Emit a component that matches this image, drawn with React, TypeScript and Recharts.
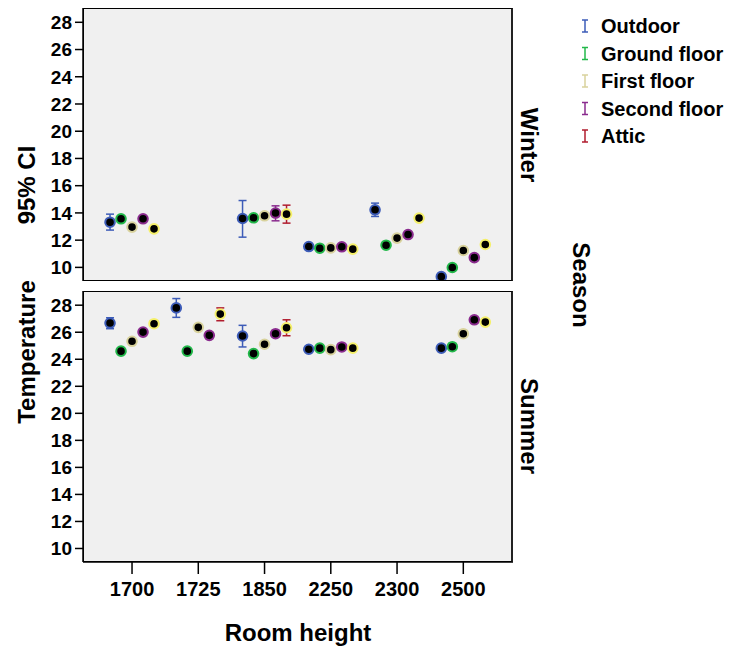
import React from "react";
import { ScatterChart, Scatter, XAxis, YAxis, CartesianGrid, ErrorBar } from "recharts";

const categories = ["1700", "1725", "1850", "2250", "2300", "2500"];
const seriesNames = ["Outdoor", "Ground floor", "First floor", "Second floor", "Attic"];
const legendColors = ["#3d5cb8", "#22b84a", "#d8d29c", "#8a2b8e", "#b01c2e"];
const markerColors = ["#3d5cb8", "#22b84a", "#d8d29c", "#8a2b8e", "#f5f06a"];
const yTicks = [10, 12, 14, 16, 18, 20, 22, 24, 26, 28];

// Winter: mean, lower CI, upper CI per category (null = no data)
const winterMean = [
  [13.32, null, 13.59, 11.53, 14.23, 9.32],
  [13.57, null, 13.64, 11.41, 11.63, 9.99],
  [12.96, null, 13.79, 11.43, 12.15, 11.24],
  [13.57, null, 13.99, 11.51, 12.41, 10.72],
  [12.83, null, 13.91, 11.34, 13.62, 11.68],
];
const winterLow = [
  [12.74, null, 12.22, 11.38, 13.74, 9.16],
  [13.42, null, 13.49, 11.27, 11.48, 9.84],
  [12.81, null, 13.64, 11.28, 12.0, 11.09],
  [13.41, null, 13.42, 11.36, 12.25, 10.56],
  [12.68, null, 13.25, 11.19, 13.46, 11.52],
];
const winterHigh = [
  [13.91, null, 14.91, 11.68, 14.72, 9.48],
  [13.72, null, 13.79, 11.55, 11.78, 10.14],
  [13.11, null, 13.94, 11.58, 12.3, 11.39],
  [13.73, null, 14.52, 11.66, 12.57, 10.88],
  [12.98, null, 14.57, 11.49, 13.78, 11.84],
];

// Summer
const summerMean = [
  [26.68, 27.8, 25.72, 24.74, null, 24.82],
  [24.6, 24.6, 24.42, 24.82, null, 24.93],
  [25.33, 26.36, 25.11, 24.71, null, 25.89],
  [26.01, 25.77, 25.89, 24.91, null, 26.92],
  [26.63, 27.34, 26.33, 24.82, null, 26.75],
];
const summerLow = [
  [26.26, 27.1, 24.91, 24.58, null, 24.66],
  [24.44, 24.44, 24.26, 24.66, null, 24.77],
  [25.17, 26.2, 24.95, 24.55, null, 25.73],
  [25.83, 25.59, 25.71, 24.75, null, 26.74],
  [26.47, 26.85, 25.74, 24.67, null, 26.59],
];
const summerHigh = [
  [27.07, 28.49, 26.51, 24.9, null, 24.98],
  [24.76, 24.76, 24.58, 24.98, null, 25.09],
  [25.49, 26.52, 25.27, 24.87, null, 26.05],
  [26.19, 25.95, 26.07, 25.07, null, 27.1],
  [26.79, 27.8, 26.92, 24.97, null, 26.91],
];

const FONT = "'Liberation Sans', Arial, sans-serif";
const DODGE = 0.166;

function buildSeries(mean: (number | null)[], low: (number | null)[], high: (number | null)[], k: number) {
  const out: { x: number; y: number; err: number[] }[] = [];
  mean.forEach((m, i) => {
    if (m == null) return;
    out.push({ x: i + (k - 2) * DODGE, y: m, err: [m - (low[i] as number), (high[i] as number) - m] });
  });
  return out;
}

function Panel({ means, lows, highs, showX, height, margin }: any) {
  return (
    <ScatterChart width={520} height={height} margin={margin}>
      <CartesianGrid horizontal={false} vertical={false} fill="#f0f0f0" />
      <XAxis
        type="number"
        dataKey="x"
        domain={[-0.74, 5.75]}
        ticks={[0, 1, 2, 3, 4, 5]}
        tickFormatter={(v: number) => categories[v]}
        allowDataOverflow
        hide={!showX}
        height={40}
        tickSize={12}
        tickMargin={8}
        axisLine={{ stroke: "#000", strokeWidth: 1.5 }}
        tickLine={{ stroke: "#000", strokeWidth: 1.5 }}
        tick={{ fill: "#000", fontSize: 20, fontWeight: "bold", fontFamily: FONT }}
      />
      <YAxis
        type="number"
        dataKey="y"
        domain={[9.0, 29.05]}
        ticks={yTicks}
        allowDataOverflow
        width={83}
        tickSize={8}
        tickMargin={3}
        axisLine={{ stroke: "#000", strokeWidth: 1.5 }}
        tickLine={{ stroke: "#000", strokeWidth: 1.5 }}
        tick={{ fill: "#000", fontSize: 19, fontWeight: "bold", fontFamily: FONT }}
      />
      {seriesNames.map((name, k) => (
        <Scatter
          key={"e" + name}
          name={name + " ci"}
          data={buildSeries(means[k], lows[k], highs[k], k)}
          isAnimationActive={false}
          shape={() => <g />}
        >
          <ErrorBar dataKey="err" direction="y" width={4} stroke={legendColors[k]} strokeWidth={1.5} />
        </Scatter>
      ))}
      {seriesNames.map((name, k) => (
        <Scatter
          key={name}
          name={name}
          data={buildSeries(means[k], lows[k], highs[k], k)}
          isAnimationActive={false}
          shape={(p: any) => (
            <circle cx={p.cx} cy={p.cy} r={4.8} fill="#000" stroke={markerColors[k]} strokeWidth={2} />
          )}
        />
      ))}
    </ScatterChart>
  );
}

export default function App() {
  return (
    <div style={{ position: "absolute", left: 0, top: 0, width: 734, height: 648, background: "#fff", fontFamily: FONT }}>
      <div style={{ position: "absolute", left: 0, top: 0 }}>
        <Panel means={winterMean} lows={winterLow} highs={winterHigh} showX={false} height={290}
          margin={{ top: 8, right: 7, bottom: 9, left: 0 }} />
      </div>
      <div style={{ position: "absolute", left: 0, top: 282 }}>
        <Panel means={summerMean} lows={summerLow} highs={summerHigh} showX={true} height={366}
          margin={{ top: 9, right: 7, bottom: 46, left: 0 }} />
      </div>
      {/* panel frames */}
      <div style={{ position: "absolute", left: 83, top: 8, width: 430, height: 273, border: "1.5px solid #000", borderRightWidth: 2.5, borderRightColor: "#222", boxSizing: "border-box", pointerEvents: "none" }} />
      <div style={{ position: "absolute", left: 83, top: 291, width: 430, height: 271, border: "1.5px solid #000", borderRightWidth: 2.5, borderRightColor: "#222", boxSizing: "border-box", pointerEvents: "none" }} />
      <svg width={734} height={648} style={{ position: "absolute", left: 0, top: 0, pointerEvents: "none" }}>
        <g fontFamily={FONT} fontWeight="bold" fill="#000">
          <text x={35} y={185} fontSize={24} textAnchor="middle" transform="rotate(-90, 35, 185)">95% CI</text>
          <text x={35} y={352} fontSize={24} textAnchor="middle" transform="rotate(-90, 35, 352)">Temperature</text>
          <text x={298} y={641} fontSize={24} textAnchor="middle">Room height</text>
          <text x={521} y={145} fontSize={24} textAnchor="middle" transform="rotate(90, 521, 145)">Winter</text>
          <text x={521} y={426} fontSize={24} textAnchor="middle" transform="rotate(90, 521, 426)">Summer</text>
          <text x={573} y={285} fontSize={24} textAnchor="middle" transform="rotate(90, 573, 285)">Season</text>
          {seriesNames.map((name, k) => {
            const cy = 26 + k * 27.5;
            return (
              <g key={name}>
                <line x1={585} x2={585} y1={cy - 6} y2={cy + 6} stroke={legendColors[k]} strokeWidth={1.5} />
                <line x1={582} x2={588} y1={cy - 6} y2={cy - 6} stroke={legendColors[k]} strokeWidth={1.5} />
                <line x1={582} x2={588} y1={cy + 6} y2={cy + 6} stroke={legendColors[k]} strokeWidth={1.5} />
                <text x={601} y={cy + 7} fontSize={20}>{name}</text>
              </g>
            );
          })}
        </g>
      </svg>
    </div>
  );
}
